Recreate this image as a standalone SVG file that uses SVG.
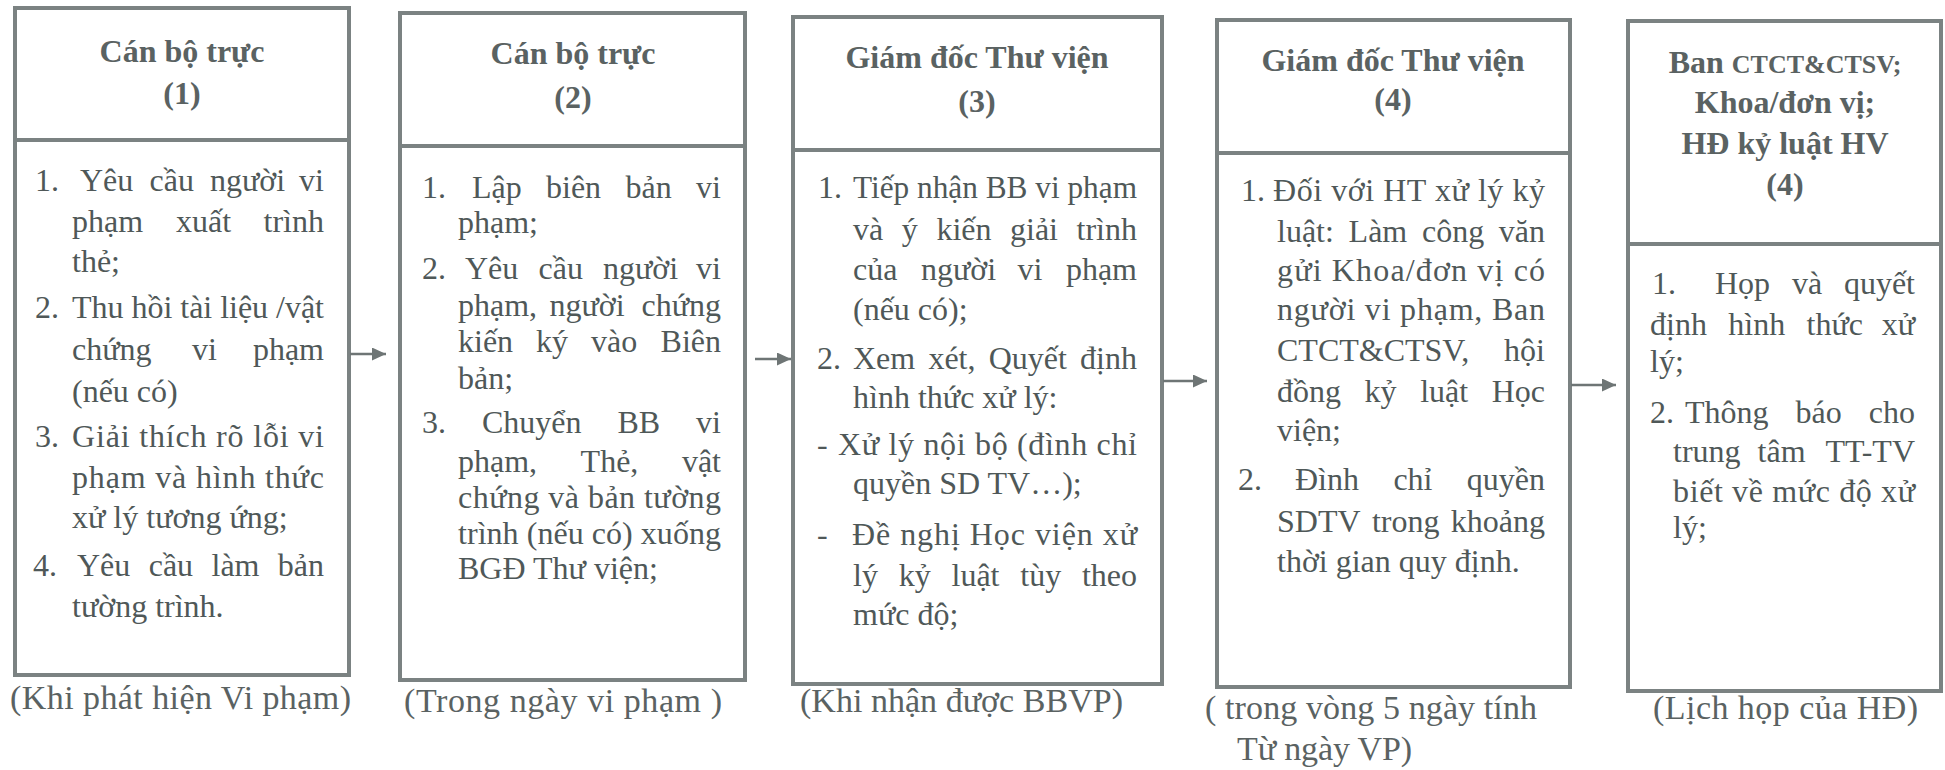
<svg xmlns="http://www.w3.org/2000/svg" width="1945" height="770" viewBox="0 0 1945 770" font-family="'Liberation Serif', Tinos, 'Times New Roman', 'DejaVu Serif', serif">
<style>
.bg{fill:#ffffff}
.box{fill:none;stroke:#7b8282;stroke-width:4}
.div{stroke:#7b8282;stroke-width:4}
text{font-family:"Liberation Serif",Tinos,"Times New Roman","DejaVu Serif",serif;fill:#4f5858}
.t{font-size:32px}
.h{font-size:32px;font-weight:bold;text-anchor:middle;fill:#5a6262}
.hs{font-size:26px}
.c{font-size:34px;fill:#5a6262}
.e{text-anchor:end}
.conn line{stroke:#6e7575;stroke-width:2.5}
</style>
<defs>
<marker id="ah" markerUnits="userSpaceOnUse" markerWidth="16" markerHeight="14" refX="14" refY="6.5" orient="auto">
<path d="M0,0 L14,6.5 L0,13 Z" fill="#6e7575"/>
</marker>
</defs>
<rect class="bg" x="0" y="0" width="1945" height="770"/>

<g id="node1">
<rect class="box" x="15" y="8" width="334" height="667"/>
<line class="div" x1="15" y1="140" x2="349" y2="140"/>
<text class="h" x="182" y="62">Cán bộ trực</text>
<text class="h" x="182" y="104">(1)</text>
<text class="t" x="35" y="191">1.</text>
<text class="t" x="80" y="191">Yêu</text><text class="t" x="149.5" y="191">cầu</text><text class="t" x="210" y="191">người</text><text class="t e" x="324" y="191">vi</text>
<text class="t" x="72" y="232">phạm</text><text class="t" x="176" y="232">xuất</text><text class="t e" x="324" y="232">trình</text>
<text class="t" x="72" y="272">thẻ;</text>
<text class="t" x="35" y="318">2.</text>
<text class="t" x="72" y="318" textLength="252" lengthAdjust="spacing">Thu hồi tài liệu /vật</text>
<text class="t" x="72" y="360">chứng</text><text class="t" x="192" y="360">vi</text><text class="t e" x="324" y="360">phạm</text>
<text class="t" x="72" y="402">(nếu có)</text>
<text class="t" x="35" y="447">3.</text>
<text class="t" x="72" y="447" textLength="252" lengthAdjust="spacing">Giải thích rõ lỗi vi</text>
<text class="t" x="72" y="488" textLength="252" lengthAdjust="spacing">phạm và hình thức</text>
<text class="t" x="72" y="528">xử lý tương ứng;</text>
<text class="t" x="33" y="576">4.</text>
<text class="t" x="77" y="576">Yêu</text><text class="t" x="148.7" y="576">cầu</text><text class="t" x="211.5" y="576">làm</text><text class="t e" x="324" y="576">bản</text>
<text class="t" x="72" y="617">tường trình.</text>
<text class="c" x="10" y="709" textLength="341" lengthAdjust="spacing">(Khi phát hiện Vi phạm)</text>
</g>

<g id="node2">
<rect class="box" x="400" y="13" width="345" height="667"/>
<line class="div" x1="400" y1="146" x2="745" y2="146"/>
<text class="h" x="573" y="64">Cán bộ trực</text>
<text class="h" x="573" y="108">(2)</text>
<text class="t" x="422" y="198">1.</text>
<text class="t" x="472" y="198">Lập</text><text class="t" x="546" y="198">biên</text><text class="t" x="625.5" y="198">bản</text><text class="t e" x="721" y="198">vi</text>
<text class="t" x="458" y="233">phạm;</text>
<text class="t" x="422" y="279">2.</text>
<text class="t" x="465" y="279">Yêu</text><text class="t" x="538.5" y="279">cầu</text><text class="t" x="603" y="279">người</text><text class="t e" x="721" y="279">vi</text>
<text class="t" x="458" y="316">phạm,</text><text class="t" x="549.5" y="316">người</text><text class="t e" x="721" y="316">chứng</text>
<text class="t" x="458" y="352">kiến</text><text class="t" x="536" y="352">ký</text><text class="t" x="591" y="352">vào</text><text class="t e" x="721" y="352">Biên</text>
<text class="t" x="458" y="389">bản;</text>
<text class="t" x="422" y="433">3.</text>
<text class="t" x="482" y="433">Chuyển</text><text class="t" x="617.5" y="433">BB</text><text class="t e" x="721" y="433">vi</text>
<text class="t" x="458" y="472">phạm,</text><text class="t" x="580.6" y="472">Thẻ,</text><text class="t e" x="721" y="472">vật</text>
<text class="t" x="458" y="508" textLength="263" lengthAdjust="spacing">chứng và bản tường</text>
<text class="t" x="458" y="544" textLength="263" lengthAdjust="spacing">trình (nếu có) xuống</text>
<text class="t" x="458" y="579">BGĐ Thư viện;</text>
<text class="c" x="404" y="712" textLength="318" lengthAdjust="spacing">(Trong ngày vi phạm )</text>
</g>

<g id="node3">
<rect class="box" x="793" y="17" width="369" height="667"/>
<line class="div" x1="793" y1="150" x2="1162" y2="150"/>
<text class="h" x="977" y="68">Giám đốc Thư viện</text>
<text class="h" x="977" y="112">(3)</text>
<text class="t" x="818" y="198">1.</text>
<text class="t" x="853" y="198" textLength="284" lengthAdjust="spacingAndGlyphs">Tiếp nhận BB vi phạm</text>
<text class="t" x="853" y="240">và</text><text class="t" x="901.8" y="240">ý</text><text class="t" x="936.4" y="240">kiến</text><text class="t" x="1010" y="240">giải</text><text class="t e" x="1137" y="240">trình</text>
<text class="t" x="853" y="280">của</text><text class="t" x="921" y="280">người</text><text class="t" x="1017.5" y="280">vi</text><text class="t e" x="1137" y="280">phạm</text>
<text class="t" x="853" y="320">(nếu có);</text>
<text class="t" x="817" y="369">2.</text>
<text class="t" x="853" y="369">Xem</text><text class="t" x="928.4" y="369">xét,</text><text class="t" x="988.7" y="369">Quyết</text><text class="t e" x="1137" y="369">định</text>
<text class="t" x="853" y="408">hình thức xử lý:</text>
<text class="t" x="817" y="455">-</text>
<text class="t" x="838" y="455" textLength="299" lengthAdjust="spacing">Xử lý nội bộ (đình chỉ</text>
<text class="t" x="853" y="494">quyền SD TV…);</text>
<text class="t" x="817" y="545">-</text>
<text class="t" x="852" y="545" textLength="285" lengthAdjust="spacing">Đề nghị Học viện xử</text>
<text class="t" x="853" y="586">lý</text><text class="t" x="898.7" y="586">kỷ</text><text class="t" x="951.5" y="586">luật</text><text class="t" x="1020.3" y="586">tùy</text><text class="t e" x="1137" y="586">theo</text>
<text class="t" x="853" y="625">mức độ;</text>
<text class="c" x="800" y="712" textLength="323" lengthAdjust="spacing">(Khi nhận được BBVP)</text>
</g>

<g id="node4">
<rect class="box" x="1217" y="20" width="353" height="667"/>
<line class="div" x1="1217" y1="153" x2="1570" y2="153"/>
<text class="h" x="1393" y="71">Giám đốc Thư viện</text>
<text class="h" x="1393" y="110">(4)</text>
<text class="t" x="1241" y="201">1.</text>
<text class="t" x="1273" y="201" textLength="272" lengthAdjust="spacing">Đối với HT xử lý kỷ</text>
<text class="t" x="1277" y="242">luật:</text><text class="t" x="1348.6" y="242">Làm</text><text class="t" x="1422" y="242">công</text><text class="t e" x="1545" y="242">văn</text>
<text class="t" x="1277" y="281" textLength="268" lengthAdjust="spacing">gửi Khoa/đơn vị có</text>
<text class="t" x="1277" y="320" textLength="268" lengthAdjust="spacing">người vi phạm, Ban</text>
<text class="t" x="1277" y="361">CTCT&amp;CTSV,</text><text class="t e" x="1545" y="361">hội</text>
<text class="t" x="1277" y="402">đồng</text><text class="t" x="1364.6" y="402">kỷ</text><text class="t" x="1420.2" y="402">luật</text><text class="t e" x="1545" y="402">Học</text>
<text class="t" x="1277" y="441">viện;</text>
<text class="t" x="1238" y="490">2.</text>
<text class="t" x="1295" y="490">Đình</text><text class="t" x="1393.4" y="490">chỉ</text><text class="t e" x="1545" y="490">quyền</text>
<text class="t" x="1277" y="532">SDTV</text><text class="t" x="1371.9" y="532">trong</text><text class="t e" x="1545" y="532">khoảng</text>
<text class="t" x="1277" y="572">thời gian quy định.</text>
<text class="c" x="1205" y="719" textLength="332" lengthAdjust="spacing">( trong vòng 5 ngày tính</text>
<text class="c" x="1237" y="760" textLength="175" lengthAdjust="spacing">Từ ngày VP)</text>
</g>

<g id="node5">
<rect class="box" x="1628" y="21" width="313" height="670"/>
<line class="div" x1="1628" y1="244" x2="1941" y2="244"/>
<text class="h" x="1785" y="73">Ban <tspan class="hs">CTCT&amp;CTSV;</tspan></text>
<text class="h" x="1785" y="113">Khoa/đơn vị;</text>
<text class="h" x="1785" y="154">HĐ kỷ luật HV</text>
<text class="h" x="1785" y="195">(4)</text>
<text class="t" x="1652" y="294">1.</text>
<text class="t" x="1715" y="294">Họp</text><text class="t" x="1792" y="294">và</text><text class="t e" x="1915" y="294">quyết</text>
<text class="t" x="1650" y="335">định</text><text class="t" x="1728.3" y="335">hình</text><text class="t" x="1806.6" y="335">thức</text><text class="t e" x="1915" y="335">xử</text>
<text class="t" x="1650" y="372">lý;</text>
<text class="t" x="1650" y="423">2.</text>
<text class="t" x="1685" y="423">Thông</text><text class="t" x="1795.6" y="423">báo</text><text class="t e" x="1915" y="423">cho</text>
<text class="t" x="1673" y="462">trung</text><text class="t" x="1757.6" y="462">tâm</text><text class="t e" x="1915" y="462">TT-TV</text>
<text class="t" x="1673" y="502" textLength="242" lengthAdjust="spacing">biết về mức độ xử</text>
<text class="t" x="1673" y="538">lý;</text>
<text class="c" x="1653" y="719" textLength="265" lengthAdjust="spacing">(Lịch họp của HĐ)</text>
</g>

<g id="connectors" class="conn">
<line x1="350" y1="354" x2="386" y2="354" marker-end="url(#ah)"/>
<line x1="755" y1="359" x2="791" y2="359" marker-end="url(#ah)"/>
<line x1="1163" y1="381" x2="1207" y2="381" marker-end="url(#ah)"/>
<line x1="1571" y1="385" x2="1616" y2="385" marker-end="url(#ah)"/>
</g>
</svg>
